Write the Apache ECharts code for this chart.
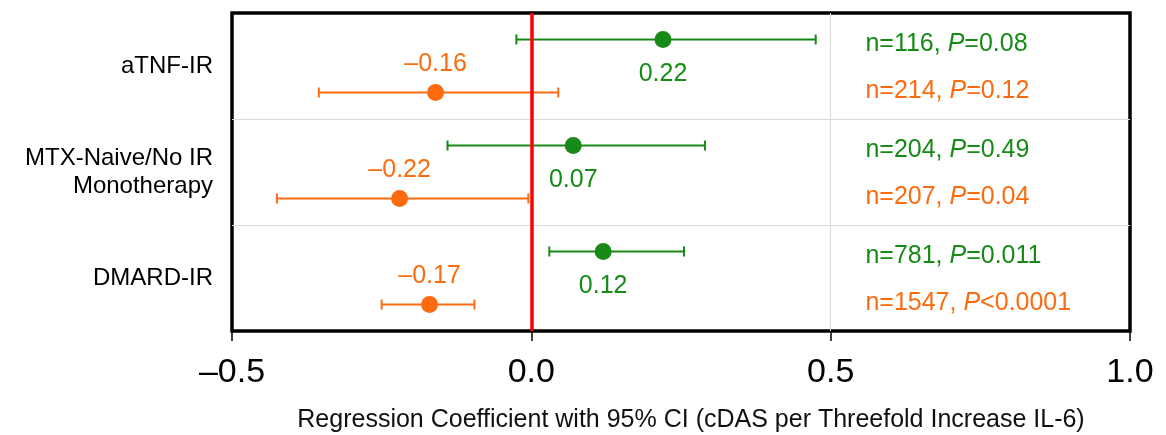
<!DOCTYPE html>
<html>
<head>
<meta charset="utf-8">
<script src="https://cdn.jsdelivr.net/npm/echarts@6/dist/echarts.min.js"></script>
<style>html,body{margin:0;padding:0;background:#fff}#c{width:1166px;height:435px}</style>
</head>
<body>
<div id="c"></div>
<script>
// ---- data ----
const groups = ['aTNF-IR', 'MTX-Naive/No IR\nMonotherapy', 'DMARD-IR'];
const greenEst = [0.22, 0.07, 0.12];
const greenLow = [-0.025, -0.14, 0.03];
const greenHigh = [0.475, 0.29, 0.255];
const orangeEst = [-0.16, -0.22, -0.17];
const orangeLow = [-0.355, -0.425, -0.25];
const orangeHigh = [0.045, -0.005, -0.095];
const greenN = [116, 204, 781];
const greenP = ['=0.08', '=0.49', '=0.011'];
const orangeN = [214, 207, 1547];
const orangeP = ['=0.12', '=0.04', '<0.0001'];
const xTicks = [-0.5, 0.0, 0.5, 1.0];
const xTitle = 'Regression Coefficient with 95% CI (cDAS per Threefold Increase IL-6)';

// ---- style ----
const GREEN = '#178a17';
const ORANGE = '#fd6b10';
const FONT = '"Liberation Sans", Arial, sans-serif';
const annotX = 0.558;

const fmt = v => (v < 0 ? '\u2013' : '') + Math.abs(v).toFixed(2);
const rowG = i => 2 * i + 0.5;
const rowO = i => 2 * i + 1.5;

function errBar(color) {
  return function (params, api) {
    const y = api.value(2);
    const p1 = api.coord([api.value(0), y]);
    const p2 = api.coord([api.value(1), y]);
    const h = 5;
    const st = { stroke: color, lineWidth: 2 };
    return {
      type: 'group',
      children: [
        { type: 'line', shape: { x1: p1[0], y1: p1[1], x2: p2[0], y2: p2[1] }, style: st },
        { type: 'line', shape: { x1: p1[0], y1: p1[1] - h, x2: p1[0], y2: p1[1] + h }, style: st },
        { type: 'line', shape: { x1: p2[0], y1: p2[1] - h, x2: p2[0], y2: p2[1] + h }, style: st }
      ]
    };
  };
}

function annot(color, nArr, pArr) {
  return {
    show: true, position: 'right', distance: 0, fontSize: 25, color: color, fontFamily: FONT,
    formatter: p => '{n|n=' + nArr[p.dataIndex] + ', }{i|P}{n|' + pArr[p.dataIndex] + '}',
    rich: {
      n: { fontSize: 25, color: color, fontFamily: FONT },
      i: { fontSize: 25, color: color, fontFamily: FONT, fontStyle: 'italic' }
    }
  };
}

const option = {
  animation: false,
  grid: { left: 232, right: 36, top: 13, bottom: 104, show: true, borderColor: '#000', borderWidth: 3.5,
    backgroundColor: 'transparent', containLabel: false, outerBoundsMode: 'none' },
  xAxis: {
    type: 'value', min: -0.5, max: 1.0, interval: 0.5,
    axisLine: { show: false, onZero: false },
    axisTick: { show: true, length: 10, lineStyle: { color: '#000', width: 1.5 } },
    axisLabel: { fontSize: 34, color: '#000', fontFamily: FONT, margin: 25,
      formatter: v => (v < 0 ? '\u2013' : '') + Math.abs(v).toFixed(1) },
    splitLine: { show: true, showMinLine: false, showMaxLine: false, lineStyle: { color: '#d9d9d9', width: 1 } },
    name: xTitle, nameLocation: 'middle', nameGap: 77,
    nameTextStyle: { fontSize: 25, color: '#111', fontFamily: FONT, padding: [0, 0, 0, 20] }
  },
  yAxis: [
    {
      type: 'value', min: 0, max: 6, interval: 2, inverse: true,
      axisLine: { show: false }, axisTick: { show: false }, axisLabel: { show: false },
      splitLine: { show: true, showMinLine: false, showMaxLine: false, lineStyle: { color: '#d9d9d9', width: 1 } }
    },
    {
      type: 'category', data: groups, inverse: true, position: 'left',
      axisLine: { show: false }, axisTick: { show: false }, splitLine: { show: false },
      axisLabel: { fontSize: 24, color: '#000', fontFamily: FONT, margin: 19, align: 'right', lineHeight: 28 }
    }
  ],
  series: [
    {
      type: 'custom', renderItem: errBar(GREEN), yAxisIndex: 0,
      data: groups.map((g, i) => [greenLow[i], greenHigh[i], rowG(i)]), z: 3,
      markLine: {
        silent: true, symbol: 'none', label: { show: false },
        lineStyle: { color: '#ff0000', width: 3.5, type: 'solid' },
        data: [{ xAxis: 0 }], z: 5
      }
    },
    {
      type: 'custom', renderItem: errBar(ORANGE), yAxisIndex: 0,
      data: groups.map((g, i) => [orangeLow[i], orangeHigh[i], rowO(i)]), z: 3
    },
    {
      type: 'scatter', yAxisIndex: 0, symbolSize: 17, itemStyle: { color: GREEN, opacity: 1 }, z: 6,
      data: groups.map((g, i) => [greenEst[i], rowG(i)]),
      label: { show: true, position: 'bottom', distance: 14, fontSize: 25, color: GREEN, fontFamily: FONT,
        formatter: p => fmt(p.value[0]) }
    },
    {
      type: 'scatter', yAxisIndex: 0, symbolSize: 17, itemStyle: { color: ORANGE, opacity: 1 }, z: 6,
      data: groups.map((g, i) => [orangeEst[i], rowO(i)]),
      label: { show: true, position: 'top', distance: 7, fontSize: 25, color: ORANGE, fontFamily: FONT,
        formatter: p => fmt(p.value[0]) }
    },
    {
      type: 'scatter', yAxisIndex: 0, symbolSize: 0, silent: true, itemStyle: { opacity: 1, color: GREEN },
      data: groups.map((g, i) => [annotX, 2 * i + 0.58]),
      label: annot(GREEN, greenN, greenP)
    },
    {
      type: 'scatter', yAxisIndex: 0, symbolSize: 0, silent: true, itemStyle: { opacity: 1, color: ORANGE },
      data: groups.map((g, i) => [annotX, 2 * i + 1.47]),
      label: annot(ORANGE, orangeN, orangeP)
    }
  ]
};

const chart = echarts.init(document.getElementById('c'), null, { renderer: 'canvas' });
chart.setOption(option);
</script>
</body>
</html>
